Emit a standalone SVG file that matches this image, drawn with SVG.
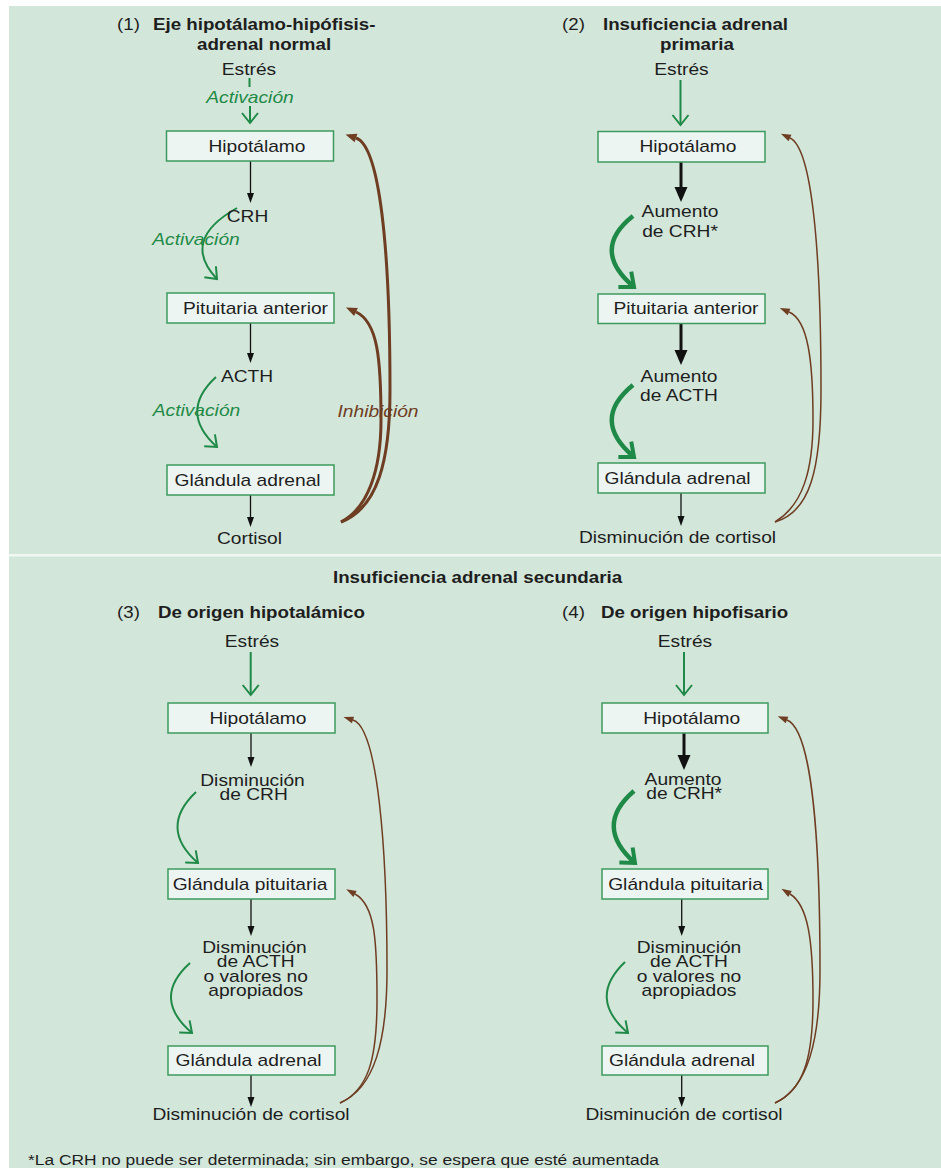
<svg xmlns="http://www.w3.org/2000/svg" width="941" height="1168" viewBox="0 0 941 1168">
<defs>
<style>
.bg{fill:#d3e6da}
.div{fill:#f1f8f3}
.box{fill:#edf5f2;stroke:#3d9a5e;stroke-width:1.5}
.t{font-family:"Liberation Sans",Arial,Helvetica,sans-serif;font-size:16px;fill:#1e1e1e;text-anchor:middle}
.b{font-weight:bold;font-size:15.6px;text-anchor:start}
.n{font-size:15.6px;text-anchor:start}
.f{font-size:14.5px;text-anchor:start}
.g{fill:#1f8a47;font-style:italic}
.br{fill:#6e3d22;font-style:italic}
.k{stroke:#111;stroke-width:1.3;fill:none}
.kk{stroke:#111;stroke-width:3;fill:none}
.gl{stroke:#1f8a47;stroke-width:2;fill:none}
.gt{stroke:#1f8a47;stroke-width:4.5;fill:none}
.bn{stroke:#6e3d22;stroke-width:1.5;fill:none}
.bw{stroke:#6e3d22;stroke-width:3;fill:none}
</style>
<marker id="mk" markerUnits="userSpaceOnUse" orient="auto" overflow="visible" refX="0" refY="0" markerWidth="1" markerHeight="1"><path d="M0,-3.5 L10,0 L0,3.5 Z" fill="#111"/></marker>
<marker id="mkk" markerUnits="userSpaceOnUse" orient="auto" overflow="visible" refX="0" refY="0" markerWidth="1" markerHeight="1"><path d="M0,-6.5 L15,0 L0,6.5 Z" fill="#111"/></marker>
<marker id="mg" markerUnits="userSpaceOnUse" orient="auto" overflow="visible" refX="0" refY="0" markerWidth="1" markerHeight="1"><path d="M-10,-8 L0,0 L-10,8" fill="none" stroke="#1f8a47" stroke-width="2"/></marker>
<marker id="mgt" markerUnits="userSpaceOnUse" orient="auto" overflow="visible" refX="0" refY="0" markerWidth="1" markerHeight="1"><path d="M-12,-10 L0,0 L-12,10" fill="none" stroke="#1f8a47" stroke-width="4"/></marker>
<marker id="mb" markerUnits="userSpaceOnUse" orient="auto" overflow="visible" refX="0" refY="0" markerWidth="1" markerHeight="1"><path d="M0,-3.5 L10,0 L0,3.5 Z" fill="#6e3d22"/></marker>
<marker id="mbw" markerUnits="userSpaceOnUse" orient="auto" overflow="visible" refX="0" refY="0" markerWidth="1" markerHeight="1"><path d="M0,-4.5 L11,0 L0,4.5 Z" fill="#6e3d22"/></marker>
</defs>

<rect class="bg" x="9" y="6" width="932" height="1162"/>
<rect class="div" x="9" y="554" width="932" height="2.5"/>

<g id="titles">
<text class="t n" transform="translate(117,30) scale(1.2,1)">(1)</text>
<text class="t b" transform="translate(153,30) scale(1.2,1)">Eje hipotálamo-hipófisis-</text>
<text class="t b" transform="translate(197,50) scale(1.2,1)">adrenal normal</text>
<text class="t n" transform="translate(562,30) scale(1.2,1)">(2)</text>
<text class="t b" transform="translate(603,30) scale(1.2,1)">Insuficiencia adrenal</text>
<text class="t b" transform="translate(660,50) scale(1.2,1)">primaria</text>
<text class="t b" transform="translate(333,582.5) scale(1.2,1)">Insuficiencia adrenal secundaria</text>
<text class="t n" transform="translate(117,618) scale(1.2,1)">(3)</text>
<text class="t b" transform="translate(158,618) scale(1.2,1)">De origen hipotalámico</text>
<text class="t n" transform="translate(562,618) scale(1.2,1)">(4)</text>
<text class="t b" transform="translate(601,618) scale(1.2,1)">De origen hipofisario</text>
<text class="t f" transform="translate(28,1165) scale(1.2,1)">*La CRH no puede ser determinada; sin embargo, se espera que esté aumentada</text>
</g>

<g id="connectors">
<!-- panel 1 -->
<line class="gl" x1="249.5" y1="78" x2="249.5" y2="87"/>
<path class="gl" d="M250,106 L250,123" marker-end="url(#mg)"/>
<path class="k" d="M250.5,161 L250.5,193" marker-end="url(#mk)"/>
<path class="gl" d="M237,208 Q180,240 217,279" marker-end="url(#mg)"/>
<path class="k" d="M250.5,323 L250.5,353" marker-end="url(#mk)"/>
<path class="gl" d="M216,377 Q178,412 217,447" marker-end="url(#mg)"/>
<path class="k" d="M250.5,495 L250.5,517" marker-end="url(#mk)"/>
<path class="bw" d="M341,522 C378,508 390,460 390,390 C390,250 380,146 356,138" marker-end="url(#mbw)"/>
<path class="bw" d="M341,522 C368,508 381,470 381,420 C381,360 378,322 356,312" marker-end="url(#mbw)"/>
<text class="t br" transform="translate(378,417) scale(1.2,1)">Inhibición</text>
<text class="t g" transform="translate(250,103) scale(1.2,1)">Activación</text>
<text class="t g" transform="translate(196,245) scale(1.2,1)">Activación</text>
<text class="t g" transform="translate(196.5,416) scale(1.2,1)">Activación</text>
<!-- panel 2 -->
<path class="gl" d="M680.5,80 L680.5,125" marker-end="url(#mg)"/>
<path class="kk" d="M681,162 L681,187" marker-end="url(#mkk)"/>
<path class="gt" d="M633,216 Q590,250 634,287" marker-end="url(#mgt)"/>
<path class="kk" d="M681,323.5 L681,350" marker-end="url(#mkk)"/>
<path class="gt" d="M633,385 Q590,420 634,457" marker-end="url(#mgt)"/>
<path class="k" d="M681,493 L681,516" marker-end="url(#mk)"/>
<path class="bn" d="M775,522 C810,512 821,470 821,390 C821,250 812,148 790,138" marker-end="url(#mb)"/>
<path class="bn" d="M775,522 C803,505 813,470 813,420 C813,360 808,320 789,312" marker-end="url(#mb)"/>
<!-- panel 3 -->
<path class="gl" d="M250.7,652 L250.7,695" marker-end="url(#mg)"/>
<path class="k" d="M251,733 L251,757" marker-end="url(#mk)"/>
<path class="gl" d="M196,792 Q158,828 198,863" marker-end="url(#mg)"/>
<path class="k" d="M251,899 L251,926" marker-end="url(#mk)"/>
<path class="gl" d="M190,963 Q151,998 192,1033" marker-end="url(#mg)"/>
<path class="k" d="M251,1075 L251,1097" marker-end="url(#mk)"/>
<path class="bn" d="M340,1103 C375,1088 387,1040 387,970 C387,850 378,728 353,720" marker-end="url(#mb)"/>
<path class="bn" d="M340,1103 C368,1090 377,1060 377,1000 C377,940 375,905 355,894" marker-end="url(#mb)"/>
<!-- panel 4 -->
<path class="gl" d="M684,652 L684,695" marker-end="url(#mg)"/>
<path class="kk" d="M684,733 L684,755" marker-end="url(#mkk)"/>
<path class="gt" d="M634,791 Q593,826 635,863" marker-end="url(#mgt)"/>
<path class="k" d="M681.7,899 L681.7,926" marker-end="url(#mk)"/>
<path class="gl" d="M625,962 Q587,998 628,1033" marker-end="url(#mg)"/>
<path class="k" d="M681.7,1075 L681.7,1097" marker-end="url(#mk)"/>
<path class="bn" d="M775,1103 C808,1088 820,1040 820,970 C820,840 812,730 787,720" marker-end="url(#mb)"/>
<path class="bn" d="M775,1103 C803,1090 813,1060 813,1000 C813,940 808,905 790,894" marker-end="url(#mb)"/>
</g>

<!-- panel 1 nodes -->
<g id="p1-estres"><text class="t" transform="translate(249,75) scale(1.2,1)">Estrés</text></g>
<g id="p1-hipotalamo"><rect class="box" x="166.5" y="131" width="167" height="30"/><text class="t" transform="translate(257,152) scale(1.2,1)">Hipotálamo</text></g>
<g id="p1-crh"><text class="t" transform="translate(247.5,222) scale(1.2,1)">CRH</text></g>
<g id="p1-pituitaria"><rect class="box" x="167" y="293" width="167" height="30"/><text class="t" transform="translate(255.5,314) scale(1.2,1)">Pituitaria anterior</text></g>
<g id="p1-acth"><text class="t" transform="translate(247,382) scale(1.2,1)">ACTH</text></g>
<g id="p1-adrenal"><rect class="box" x="167" y="465" width="167" height="30"/><text class="t" transform="translate(247.5,486) scale(1.2,1)">Glándula adrenal</text></g>
<g id="p1-cortisol"><text class="t" transform="translate(249.5,544) scale(1.2,1)">Cortisol</text></g>

<!-- panel 2 nodes -->
<g id="p2-estres"><text class="t" transform="translate(681.5,75) scale(1.2,1)">Estrés</text></g>
<g id="p2-hipotalamo"><rect class="box" x="598" y="131.5" width="167" height="30.5"/><text class="t" transform="translate(688,152) scale(1.2,1)">Hipotálamo</text></g>
<g id="p2-crh"><text class="t" transform="translate(680,217) scale(1.2,1)"><tspan x="0" y="0">Aumento</tspan><tspan x="0" y="20">de CRH*</tspan></text></g>
<g id="p2-pituitaria"><rect class="box" x="598" y="294" width="167" height="29.5"/><text class="t" transform="translate(686,314) scale(1.2,1)">Pituitaria anterior</text></g>
<g id="p2-acth"><text class="t" transform="translate(679,382) scale(1.2,1)"><tspan x="0" y="0">Aumento</tspan><tspan x="0" y="19">de ACTH</tspan></text></g>
<g id="p2-adrenal"><rect class="box" x="598" y="463" width="167" height="30"/><text class="t" transform="translate(677.5,484) scale(1.2,1)">Glándula adrenal</text></g>
<g id="p2-cortisol"><text class="t" transform="translate(677.5,543) scale(1.2,1)">Disminución de cortisol</text></g>

<!-- panel 3 nodes -->
<g id="p3-estres"><text class="t" transform="translate(252,647) scale(1.2,1)">Estrés</text></g>
<g id="p3-hipotalamo"><rect class="box" x="168" y="703" width="167" height="30"/><text class="t" transform="translate(258,724) scale(1.2,1)">Hipotálamo</text></g>
<g id="p3-crh"><text class="t" transform="translate(252.5,785.5) scale(1.2,1)"><tspan x="0" y="0">Disminución</tspan><tspan x="1" y="14.5">de CRH</tspan></text></g>
<g id="p3-pituitaria"><rect class="box" x="168" y="869" width="167" height="30"/><text class="t" transform="translate(250,890) scale(1.2,1)">Glándula pituitaria</text></g>
<g id="p3-acth"><text class="t" transform="translate(254.5,953) scale(1.2,1)"><tspan x="0" y="0">Disminución</tspan><tspan x="1" y="14.5">de ACTH</tspan><tspan x="1" y="29">o valores no</tspan><tspan x="1" y="43.5">apropiados</tspan></text></g>
<g id="p3-adrenal"><rect class="box" x="168" y="1046" width="167" height="29"/><text class="t" transform="translate(248.5,1066) scale(1.2,1)">Glándula adrenal</text></g>
<g id="p3-cortisol"><text class="t" transform="translate(251,1120) scale(1.2,1)">Disminución de cortisol</text></g>

<!-- panel 4 nodes -->
<g id="p4-estres"><text class="t" transform="translate(685,647) scale(1.2,1)">Estrés</text></g>
<g id="p4-hipotalamo"><rect class="box" x="602" y="703" width="166" height="30"/><text class="t" transform="translate(691.7,724) scale(1.2,1)">Hipotálamo</text></g>
<g id="p4-crh"><text class="t" transform="translate(683,785) scale(1.2,1)"><tspan x="0" y="0">Aumento</tspan><tspan x="1" y="13.5">de CRH*</tspan></text></g>
<g id="p4-pituitaria"><rect class="box" x="602" y="869" width="166" height="30"/><text class="t" transform="translate(685.5,890) scale(1.2,1)">Glándula pituitaria</text></g>
<g id="p4-acth"><text class="t" transform="translate(689,953) scale(1.2,1)"><tspan x="0" y="0">Disminución</tspan><tspan x="0" y="14.5">de ACTH</tspan><tspan x="0" y="29">o valores no</tspan><tspan x="0" y="43.5">apropiados</tspan></text></g>
<g id="p4-adrenal"><rect class="box" x="602" y="1046" width="166" height="29"/><text class="t" transform="translate(682,1066) scale(1.2,1)">Glándula adrenal</text></g>
<g id="p4-cortisol"><text class="t" transform="translate(684,1120) scale(1.2,1)">Disminución de cortisol</text></g>
</svg>
